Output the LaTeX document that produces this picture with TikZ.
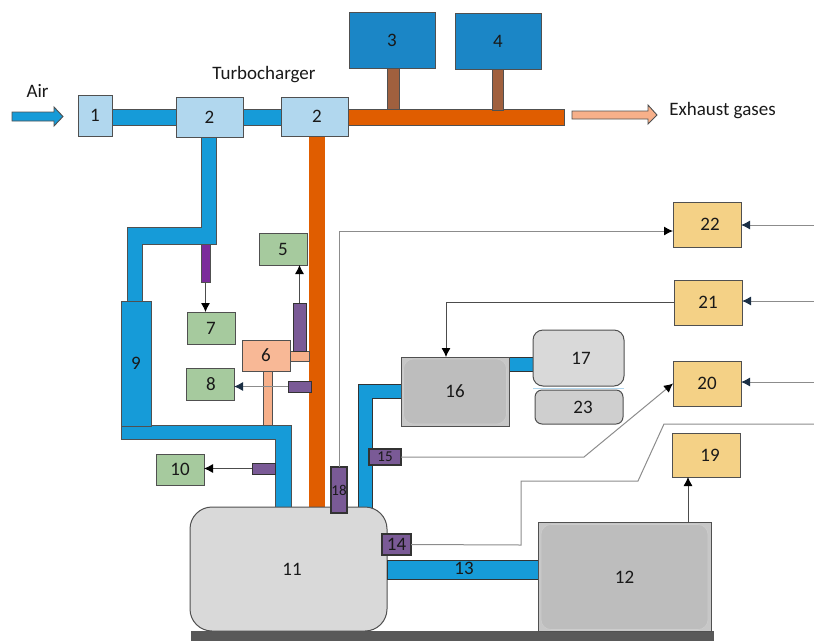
\documentclass[tikz,border=0pt]{standalone}
\usepackage{fontspec}
\setmainfont{Carlito}
\usepackage{tikz}
\usetikzlibrary{arrows.meta,calc}
\definecolor{pipeblue}{HTML}{169BD8}
\definecolor{tankblue}{HTML}{1B86C6}
\definecolor{paleblue}{HTML}{B1D7EE}
\definecolor{exhaust}{HTML}{E05D00}
\definecolor{paleorange}{HTML}{F7B08A}
\definecolor{leaf}{HTML}{A6CA9E}
\definecolor{sand}{HTML}{F4D186}
\definecolor{violet}{HTML}{7A5A96}
\definecolor{deepviolet}{HTML}{7B2B9B}
\definecolor{brownish}{HTML}{A0603E}
\definecolor{edgegray}{HTML}{505050}
\definecolor{navy}{HTML}{1B2F45}

\begin{document}
\begin{tikzpicture}[
    x=1pt, y=-1pt,
    every node/.style={font=\fontsize{19}{22}\selectfont, text=black!90, inner sep=0pt, outer sep=0pt},
    block/.style={draw=edgegray, line width=1pt, align=center},
    pipe/.style={draw=edgegray, line width=0.7pt, fill=pipeblue},
    hot/.style={draw=edgegray, line width=0.7pt, fill=exhaust},
    sensor/.style={block, fill=violet, draw=black!80},
    leafbox/.style={block, fill=leaf, minimum width=48pt, minimum height=32pt},
    sandbox/.style={block, fill=sand, minimum width=68pt, minimum height=45pt},
    paler/.style={block, fill=paleblue},
    tank/.style={block, fill=tankblue, minimum width=86pt, minimum height=56pt},
    engine/.style={block, fill=black!15, rounded corners=22pt},
    grayinner/.style={draw=black!20, fill=black!26, line width=0.6pt, rounded corners=10pt},
    sig/.style={draw=black!45, line width=1pt},
    sigdark/.style={draw=black!70, line width=0.8pt},
    sigtip/.style={-{Latex[length=9pt,width=9pt,black]}},
    navytip/.style={-{Latex[length=9pt,width=9pt,navy]}},
    fatarrow/.style={draw=edgegray, line width=0.9pt}
]
\useasboundingbox (0,0) rectangle (814,641);

% Base plate
\node[fill=black!65, minimum width=523pt, minimum height=10pt] (base) at (452.5,636) {};

% Air and exhaust pipes
\filldraw[pipe] (112,109) rectangle (176,125);
\filldraw[pipe] (243,109) rectangle (281,125);
\filldraw[hot] (348,109) rectangle (564,125);
\fill[exhaust] (309,136) rectangle (325,508);
\filldraw[pipe] (201,137) -- (216,137) -- (216,244) -- (142,244) -- (142,301) -- (127,301) -- (127,227) -- (201,227) -- cycle;
\filldraw[pipe] (121,425) -- (291,425) -- (291,510) -- (275,510) -- (275,439) -- (121,439) -- cycle;
\filldraw[pipe, draw=black!80] (358,509) -- (358,384) -- (402,384) -- (402,398) -- (372,398) -- (372,509) -- cycle;
\filldraw[pipe, draw=black!80] (509,357) rectangle (534,371);
\filldraw[draw=edgegray, line width=0.7pt, fill=brownish] (387,68) rectangle (399,109);
\filldraw[draw=edgegray, line width=0.7pt, fill=brownish] (492,69) rectangle (503,110);
\filldraw[draw=edgegray, line width=0.5pt, fill=paleorange] (263,371) rectangle (272,425);
\filldraw[draw=edgegray, line width=0.7pt, fill=paleorange] (289,351) rectangle (309,361);

% Big arrows
\filldraw[fatarrow, fill=pipeblue] (12,112) -- (54,112) -- (54,107) -- (63,116.5) -- (54,126) -- (54,121) -- (12,121) -- cycle;
\filldraw[fatarrow, fill=paleorange] (572,111) -- (648,111) -- (648,105) -- (657,115) -- (648,124) -- (648,119) -- (572,119) -- cycle;
\node (air) at (37.5,91) {Air};
\node (exh) at (722.5,111) {Exhaust gases};
\node (turbo) at (264,75) {Turbocharger};

% Upper row
\node[paler, minimum width=34pt, minimum height=41pt] (b1) at (95,115.5) {1};
\node[paler, minimum width=67pt, minimum height=40pt] (b2a) at (209.5,117) {2};
\node[paler, minimum width=67pt, minimum height=39pt] (b2b) at (314.5,116.5) {\hspace*{5pt}2};
\node[tank] (b3) at (392,40) {3};
\node[tank] (b4) at (498,41) {4};

% Air side
\node[block, fill=pipeblue, minimum width=30pt, minimum height=125pt] (b9) at (136,363.5) {9};
\node[leafbox] (b5) at (283,249) {5};
\node[leafbox] (b7) at (211,328) {7};
\node[leafbox] (b8) at (210,384.5) {\hspace*{2pt}8};
\node[leafbox, minimum height=31pt] (b10) at (180,469.5) {10};
\node[block, fill=paleorange!90!white, minimum width=48pt, minimum height=31pt] (b6) at (266,355.5) {6};
\node[block, fill=deepviolet, minimum width=9pt, minimum height=38pt] (s7) at (205.5,263) {};
\node[sensor, minimum width=13pt, minimum height=48pt] (s5) at (299.5,327) {};
\node[sensor, minimum width=23pt, minimum height=11pt] (s8) at (299.5,386.5) {};
\node[sensor, minimum width=23pt, minimum height=11pt] (s10) at (263.5,468.5) {};

% Engine and generator
\node[engine, minimum width=197pt, minimum height=124pt] (b11) at (288.5,569) {\hspace*{7pt}11};
\filldraw[pipe, draw=black!80] (387,560) rectangle (538,579);
\node (b13) at (464,568) {13};
\node[block, fill=black!22, minimum width=173pt, minimum height=109pt] (b12) at (624.5,576.5) {};
\node[grayinner, minimum width=167pt, minimum height=105pt] (b12in) at (624.5,577) {12};
\node[block, fill=black!22, minimum width=108pt, minimum height=69pt] (b16) at (455,391.5) {};
\node[grayinner, minimum width=103pt, minimum height=65pt] (b16in) at (455,391.5) {16};
\node[block, fill=black!15, rounded corners=10pt, minimum width=91pt, minimum height=56pt] (b17) at (578.5,358) {\hspace*{5pt}17};
\node[block, fill=black!19, rounded corners=7pt, minimum width=88pt, minimum height=34pt] (b23) at (579,407) {\hspace*{8pt}23};
\draw[paleblue, line width=0.8pt] (b17.south west |- 0,388) -- (b17.south east |- 0,388);

% Instruments
\node[sensor, line width=1.2pt, minimum width=16pt, minimum height=46pt, font=\fontsize{15}{17}\selectfont] (s18) at (339,490) {18};
\node[sensor, line width=1.4pt, minimum width=32pt, minimum height=16pt, font=\fontsize{15}{17}\selectfont] (s15) at (385,457) {15};
\node[sensor, line width=1.2pt, minimum width=29pt, minimum height=21pt] (s14) at (396.5,544.5) {14};
\node[sandbox] (b22) at (707,224.5) {\hspace*{6pt}22};
\node[sandbox] (b21) at (708,302.5) {21};
\node[sandbox] (b20) at (707,383.5) {20};
\node[sandbox, minimum height=44pt] (b19) at (706.5,455) {\hspace*{7pt}19};

% Free ends on the right
\coordinate (in22) at (814,225);
\coordinate (in21) at (814,301);
\coordinate (in20) at (814,382);
\coordinate (in14) at (814,424);

% Signal lines
\draw[sigdark, sigtip] (s7.south) -- (s7.south |- b7.north);
\draw[sigdark, sigtip] (s5.north) -- (s5.north |- b5.south);
\draw[sig, navytip] (s8.west) -- (s8.west -| b8.east);
\draw[sigdark, sigtip] (s10.west) -- (s10.west -| b10.east);
\draw[sig, sigtip] (s18.north) |- ([yshift=-6.5pt]b22.west);
\draw[sigdark, sigtip] (b21.west) -| ([xshift=-9pt]b16.north);
\draw[sig, sigtip] (s15.east) -- (584,457) -- (b20.west);
\draw[sig] (s14.east) -- (521,545) -- (521,481) -- (638,481) -- (664,424) -- (in14);
\draw[sigdark, sigtip] ([xshift=63.5pt]b12.north) -- ([xshift=-18.5pt]b19.south);
\draw[sig, navytip] (in22) -- (in22 -| b22.east);
\draw[sig, navytip] (in21) -- (in21 -| b21.east);
\draw[sig, navytip] (in20) -- (in20 -| b20.east);
\end{tikzpicture}
\end{document}
